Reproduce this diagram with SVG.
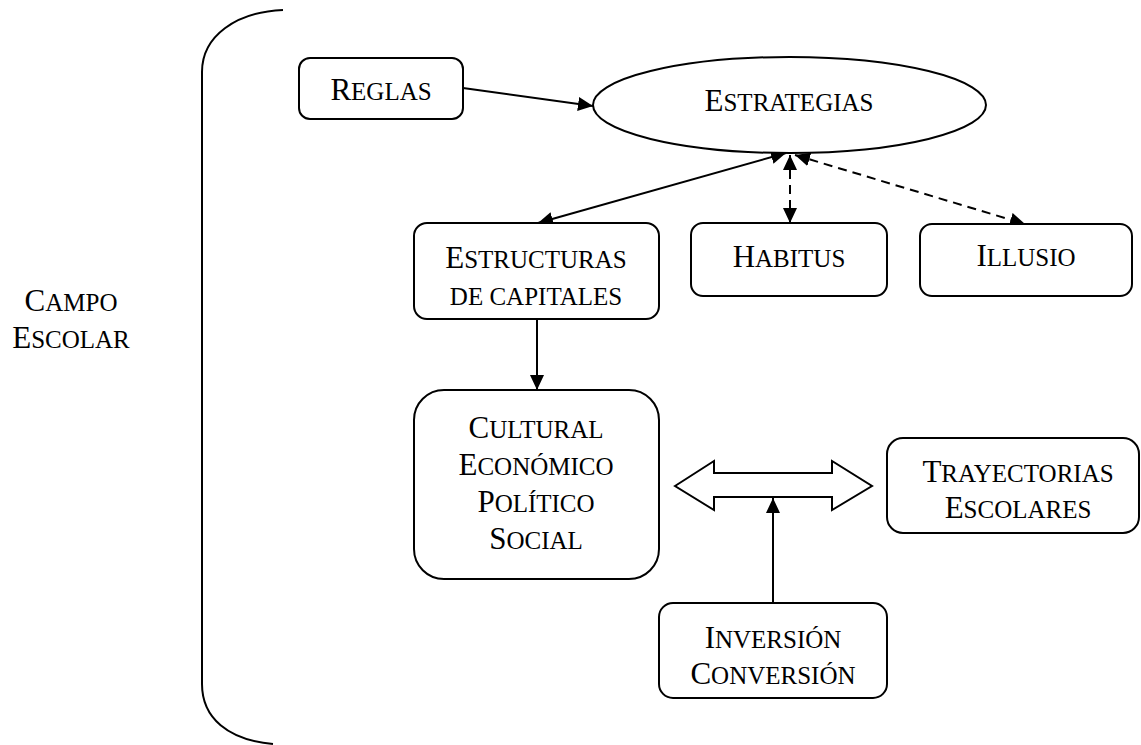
<svg xmlns="http://www.w3.org/2000/svg" width="1141" height="745" viewBox="0 0 1141 745">
  <style>
    .box { fill: #fff; stroke: #000; stroke-width: 2; }
    .lbl { font-family: "Liberation Serif", "Times New Roman", serif; font-size: 31px; fill: #000; text-anchor: middle; }
    .sc { font-size: 25px; }
    .edge { fill: none; stroke: #000; stroke-width: 2; }
    .dash { stroke-dasharray: 9 6; }
  </style>
  <defs>
    <marker id="tri" markerUnits="userSpaceOnUse" markerWidth="16" markerHeight="14" refX="15" refY="7" orient="auto-start-reverse">
      <path d="M0,0 L15,7 L0,14 z" fill="#000"/>
    </marker>
  </defs>
  <rect width="1141" height="745" fill="#fff"/>

  <!-- field bracket -->
  <g id="campo">
    <path class="edge" d="M283,10 C236,12 202,36 202,72 L202,684 C202,718 228,740 273,744"/>
    <text class="lbl" x="71" y="311">C<tspan class="sc">AMPO</tspan></text>
    <text class="lbl" x="71" y="348">E<tspan class="sc">SCOLAR</tspan></text>
  </g>

  <!-- connectors -->
  <g id="connectors">
    <line class="edge" x1="463" y1="88" x2="593" y2="106" marker-end="url(#tri)"/>
    <line class="edge" x1="538" y1="223" x2="786" y2="153" marker-start="url(#tri)" marker-end="url(#tri)"/>
    <line class="edge dash" x1="790" y1="155" x2="790" y2="223" marker-start="url(#tri)" marker-end="url(#tri)"/>
    <line class="edge dash" x1="795" y1="155" x2="1025" y2="224" marker-start="url(#tri)" marker-end="url(#tri)"/>
    <line class="edge" x1="537" y1="319" x2="537" y2="390" marker-end="url(#tri)"/>
    <line class="edge" x1="773" y1="603" x2="773" y2="498" marker-end="url(#tri)"/>
    <path class="box" d="M675,486 L714,461 L714,473 L832,473 L832,461 L872,486 L832,510 L832,497 L714,497 L714,510 Z"/>
  </g>

  <g id="reglas">
    <rect class="box" x="299" y="58" width="164" height="61" rx="11"/>
    <text class="lbl" x="381" y="100">R<tspan class="sc">EGLAS</tspan></text>
  </g>

  <g id="estrategias">
    <ellipse class="box" cx="789.5" cy="105" rx="196.5" ry="48"/>
    <text class="lbl" x="789" y="111">E<tspan class="sc">STRATEGIAS</tspan></text>
  </g>

  <g id="estructuras">
    <rect class="box" x="414" y="223" width="245" height="96" rx="13"/>
    <text class="lbl" x="536" y="268">E<tspan class="sc">STRUCTURAS</tspan></text>
    <text class="lbl sc" x="536" y="305">DE CAPITALES</text>
  </g>

  <g id="habitus">
    <rect class="box" x="691" y="223" width="196" height="73" rx="12"/>
    <text class="lbl" x="789" y="267">H<tspan class="sc">ABITUS</tspan></text>
  </g>

  <g id="illusio">
    <rect class="box" x="920" y="224" width="212" height="72" rx="12"/>
    <text class="lbl" x="1026" y="266">I<tspan class="sc">LLUSIO</tspan></text>
  </g>

  <g id="capitales">
    <rect class="box" x="414" y="390" width="245" height="189" rx="30"/>
    <text class="lbl" x="536" y="438">C<tspan class="sc">ULTURAL</tspan></text>
    <text class="lbl" x="536" y="475">E<tspan class="sc">CONÓMICO</tspan></text>
    <text class="lbl" x="536" y="512">P<tspan class="sc">OLÍTICO</tspan></text>
    <text class="lbl" x="536" y="549">S<tspan class="sc">OCIAL</tspan></text>
  </g>

  <g id="trayectorias">
    <rect class="box" x="887" y="438" width="252" height="95" rx="16"/>
    <text class="lbl" x="1018" y="482">T<tspan class="sc">RAYECTORIAS</tspan></text>
    <text class="lbl" x="1018" y="518">E<tspan class="sc">SCOLARES</tspan></text>
  </g>

  <g id="inversion">
    <rect class="box" x="659" y="603" width="228" height="95" rx="14"/>
    <text class="lbl" x="773" y="648">I<tspan class="sc">NVERSIÓN</tspan></text>
    <text class="lbl" x="773" y="684">C<tspan class="sc">ONVERSIÓN</tspan></text>
  </g>
</svg>
